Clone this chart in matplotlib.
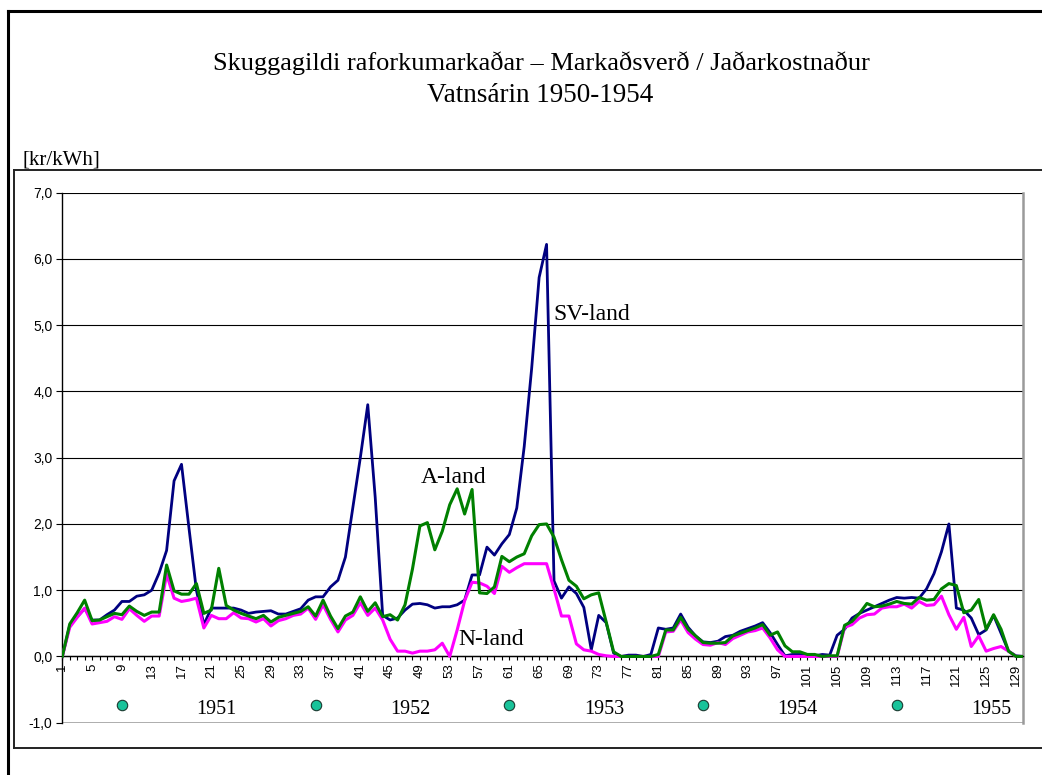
import numpy as np
import matplotlib.pyplot as plt
from matplotlib.lines import Line2D
from matplotlib.ticker import FuncFormatter

# Shadow prices, kr/kWh, 130 periods (1951-1955)
sv_land = [0.00, 0.47, 0.60, 0.72, 0.55, 0.55, 0.63, 0.70, 0.83, 0.83,
           0.91, 0.93, 1.00, 1.26, 1.60, 2.65, 2.90, 1.94, 1.00, 0.48,
           0.73, 0.73, 0.73, 0.73, 0.70, 0.65, 0.67, 0.68, 0.69, 0.64,
           0.64, 0.68, 0.72, 0.85, 0.90, 0.90, 1.05, 1.15, 1.50, 2.25,
           3.00, 3.80, 2.40, 0.62, 0.55, 0.58, 0.70, 0.79, 0.80, 0.78,
           0.73, 0.75, 0.75, 0.78, 0.85, 1.23, 1.23, 1.65, 1.53, 1.70,
           1.84, 2.24, 3.17, 4.35, 5.72, 6.22, 1.14, 0.88, 1.05, 0.95,
           0.74, 0.10, 0.62, 0.51, 0.05, 0.00, 0.02, 0.02, 0.00, 0.03,
           0.43, 0.41, 0.43, 0.64, 0.44, 0.31, 0.22, 0.21, 0.23, 0.30,
           0.32, 0.38, 0.42, 0.46, 0.51, 0.36, 0.18, 0.01, 0.03, 0.03,
           0.01, 0.01, 0.03, 0.02, 0.32, 0.41, 0.58, 0.65, 0.70, 0.75,
           0.80, 0.85, 0.89, 0.88, 0.89, 0.88, 1.02, 1.25, 1.58, 2.00,
           0.73, 0.70, 0.58, 0.33, 0.40, 0.62, 0.35, 0.08, 0.01, 0.00]

a_land = [0.00, 0.49, 0.66, 0.85, 0.54, 0.55, 0.60, 0.65, 0.63, 0.76,
          0.68, 0.62, 0.67, 0.67, 1.38, 0.99, 0.94, 0.94, 1.10, 0.65,
          0.70, 1.33, 0.77, 0.70, 0.65, 0.61, 0.57, 0.62, 0.52, 0.59,
          0.62, 0.65, 0.68, 0.75, 0.61, 0.85, 0.61, 0.42, 0.61, 0.67,
          0.90, 0.68, 0.81, 0.60, 0.63, 0.55, 0.78, 1.32, 1.97, 2.02,
          1.61, 1.89, 2.29, 2.53, 2.15, 2.52, 0.96, 0.95, 1.05, 1.51,
          1.43, 1.50, 1.55, 1.82, 1.99, 2.00, 1.80, 1.46, 1.15, 1.06,
          0.87, 0.93, 0.96, 0.52, 0.07, 0.00, 0.00, 0.00, 0.00, 0.00,
          0.03, 0.40, 0.40, 0.59, 0.41, 0.31, 0.21, 0.20, 0.20, 0.21,
          0.31, 0.35, 0.39, 0.43, 0.48, 0.32, 0.37, 0.16, 0.07, 0.07,
          0.03, 0.03, 0.00, 0.01, 0.01, 0.47, 0.53, 0.65, 0.80, 0.75,
          0.76, 0.79, 0.83, 0.80, 0.79, 0.89, 0.85, 0.86, 1.02, 1.10,
          1.07, 0.66, 0.70, 0.86, 0.41, 0.63, 0.41, 0.08, 0.00, 0.00]

n_land = [0.00, 0.44, 0.59, 0.73, 0.49, 0.51, 0.53, 0.60, 0.56, 0.72,
          0.62, 0.53, 0.61, 0.61, 1.24, 0.88, 0.83, 0.85, 0.88, 0.43,
          0.62, 0.57, 0.57, 0.66, 0.58, 0.57, 0.52, 0.57, 0.46, 0.54,
          0.57, 0.62, 0.64, 0.73, 0.56, 0.78, 0.56, 0.37, 0.55, 0.62,
          0.81, 0.62, 0.73, 0.55, 0.26, 0.08, 0.08, 0.05, 0.08, 0.08,
          0.10, 0.20, 0.00, 0.40, 0.84, 1.12, 1.11, 1.06, 0.95, 1.36,
          1.27, 1.34, 1.40, 1.40, 1.40, 1.40, 1.02, 0.61, 0.61, 0.19,
          0.10, 0.08, 0.03, 0.01, 0.00, 0.00, 0.00, 0.00, 0.00, 0.00,
          0.00, 0.37, 0.38, 0.55, 0.36, 0.26, 0.18, 0.17, 0.21, 0.18,
          0.27, 0.32, 0.37, 0.39, 0.43, 0.28, 0.10, 0.00, 0.00, 0.00,
          0.00, 0.00, 0.00, 0.00, 0.00, 0.44, 0.48, 0.58, 0.63, 0.64,
          0.73, 0.75, 0.75, 0.79, 0.73, 0.83, 0.77, 0.78, 0.91, 0.63,
          0.41, 0.59, 0.15, 0.31, 0.08, 0.12, 0.15, 0.08, 0.00, 0.00]

periods = np.arange(1, len(sv_land) + 1)

# year markers along the bottom
year_pos = [9, 35, 61, 87, 113]
year_names = ["1951", "1952", "1953", "1954", "1955"]
year_level = -0.73

W, H = 1042, 775
serif = "Liberation Serif"
sans = "Liberation Sans"

fig = plt.figure(figsize=(W / 100, H / 100), dpi=100)


def fx(px):
    return px / W


def fy(py):
    return 1 - py / H


# page frame (thick) and chart area box
fig.add_artist(Line2D([fx(8), fx(8)], [0, fy(11)], color="black", lw=2.2))
fig.add_artist(Line2D([fx(8), 1], [fy(11), fy(11)], color="black", lw=2.2))
fig.add_artist(Line2D([fx(14), fx(14)], [fy(748), fy(170)], color="#222222", lw=1.4))
fig.add_artist(Line2D([fx(14), 1], [fy(170), fy(170)], color="#222222", lw=1.4))
fig.add_artist(Line2D([fx(14), 1], [fy(748), fy(748)], color="#222222", lw=1.4))

fig.text(fx(541), fy(63), "Skuggagildi raforkumarkaðar – Markaðsverð / Jaðarkostnaður",
         ha="center", va="center", fontsize=19, family=serif)
fig.text(fx(540), fy(96), "Vatnsárin 1950-1954",
         ha="center", va="center", fontsize=19.5, family=serif)
fig.text(fx(23), fy(160), "[kr/kWh]", ha="left", va="center", fontsize=15, family=serif)

ax = fig.add_axes([fx(62.3), fy(722.7), (1023.4 - 62.3) / W, (722.7 - 192.7) / H])
ax.set_xlim(1, 130)
ax.set_ylim(-1, 7)

# x axis sits at zero; move it before styling the ticks
ax.spines["bottom"].set_position(("data", 0))
ax.spines["bottom"].set_linewidth(1.0)
ax.spines["left"].set_linewidth(1.0)
ax.spines["top"].set_visible(False)
ax.spines["right"].set_color("#9a9a9a")
ax.spines["right"].set_linewidth(1.8)

ax.set_yticks(range(-1, 8))
ax.yaxis.set_major_formatter(FuncFormatter(lambda v, p: f"{v:.1f}".replace(".", ",")))
ax.grid(axis="y", color="black", lw=0.8)
ax.set_axisbelow(True)

ax.set_xticks(periods)
ax.set_xticklabels([str(p) if (p - 1) % 4 == 0 else "" for p in periods])
ax.tick_params(axis="x", direction="out", length=3, width=0.8, pad=2,
               labelsize=9.5, labelrotation=90, labelfontfamily=sans)
ax.tick_params(axis="y", direction="out", length=4, width=0.8, pad=3,
               labelsize=10, labelfontfamily=sans)

ax.axhline(-1, color="#9a9a9a", lw=1.8, zorder=1)

ax.plot(periods, sv_land, color="#000080", lw=2.0, zorder=3)
ax.plot(periods, n_land, color="#ff00ff", lw=2.2, zorder=3)
ax.plot(periods, a_land, color="#008000", lw=2.2, zorder=4)

ax.plot(year_pos, [year_level] * len(year_pos), "o", ms=7.5,
        mfc="#19c39a", mec="#1a3a30", mew=0.8, clip_on=False, zorder=5)
for pos, name in zip(year_pos, year_names):
    ax.text(pos + 12.7, -0.80, name, ha="center", va="center", fontsize=14.5, family=serif)

ax.text(66.9, 5.16, "SV-land", ha="left", va="center", fontsize=17, family=serif)
ax.text(49.1, 2.70, "A-land", ha="left", va="center", fontsize=17, family=serif)
ax.text(54.1, 0.25, "N-land", ha="left", va="center", fontsize=17, family=serif)

fig.savefig("out.png", dpi=100)
